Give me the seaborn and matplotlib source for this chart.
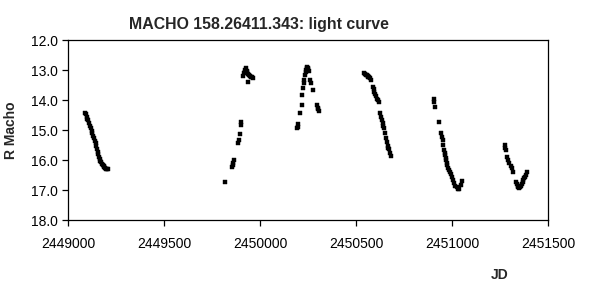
import numpy as np
import pandas as pd
import matplotlib
matplotlib.use("Agg")
import matplotlib.pyplot as plt
import seaborn as sns

# Julian dates (offset from 2449000) and R magnitudes
jd_s1 = [88, 92, 97, 101, 106, 111, 115, 120, 124, 127, 131, 135, 140, 144, 147, 150, 154, 158, 162, 165, 169, 172, 176, 181, 185, 189, 194, 198, 203, 208]
r_s1 = [14.42, 14.48, 14.56, 14.62, 14.67, 14.78, 14.86, 14.94, 15.02, 15.11, 15.19, 15.28, 15.36, 15.44, 15.53, 15.63, 15.72, 15.81, 15.90, 15.97, 16.04, 16.08, 16.13, 16.17, 16.21, 16.24, 16.27, 16.29, 16.30, 16.31]

jd_s2 = [818, 852, 857, 861, 865, 884, 889, 894, 899, 901, 913, 917, 920, 922, 927, 931, 934, 936, 939, 943, 948, 953, 958, 962]
r_s2 = [16.74, 16.24, 16.16, 16.11, 16.01, 15.44, 15.34, 15.14, 14.83, 14.74, 13.19, 13.11, 13.05, 13.00, 12.92, 13.03, 13.08, 13.41, 13.14, 13.16, 13.19, 13.22, 13.24, 13.26]

jd_s3 = [1193, 1196, 1200, 1208, 1217, 1220, 1225, 1228, 1231, 1234, 1237, 1240, 1243, 1246, 1248, 1251, 1255, 1260, 1266, 1278, 1295, 1300, 1304, 1309]
r_s3 = [14.93, 14.80, 14.89, 14.44, 14.17, 13.83, 13.61, 13.44, 13.33, 13.17, 13.08, 13.00, 12.89, 12.92, 12.94, 12.98, 13.03, 13.33, 13.44, 13.67, 14.17, 14.26, 14.31, 14.37]

jd_s4 = [1543, 1547, 1552, 1556, 1561, 1565, 1568, 1573, 1578, 1590, 1593, 1595, 1599, 1602, 1608, 1613, 1620, 1627, 1630, 1635, 1639, 1643, 1646, 1651, 1656, 1660, 1665, 1669, 1672, 1677, 1682]
r_s4 = [13.11, 13.12, 13.15, 13.17, 13.20, 13.22, 13.24, 13.28, 13.33, 13.56, 13.64, 13.72, 13.80, 13.87, 13.95, 14.00, 14.06, 14.42, 14.56, 14.66, 14.76, 14.85, 14.94, 15.11, 15.28, 15.39, 15.53, 15.60, 15.64, 15.78, 15.87]

jd_s5 = [1906, 1906, 1911, 1932, 1941, 1947, 1952, 1955, 1958, 1961, 1964, 1967, 1969, 1972, 1976, 1981, 1986, 1990, 1995, 2002, 2007, 2012, 2018, 2024, 2030, 2036, 2045, 2050]
r_s5 = [13.98, 14.06, 14.24, 14.74, 15.09, 15.22, 15.33, 15.50, 15.67, 15.75, 15.83, 15.92, 16.00, 16.09, 16.17, 16.25, 16.33, 16.40, 16.47, 16.58, 16.68, 16.78, 16.85, 16.91, 16.95, 16.98, 16.83, 16.69]

jd_s6 = [2276, 2276, 2280, 2285, 2293, 2299, 2305, 2311, 2319, 2333, 2338, 2342, 2346, 2350, 2355, 2359, 2364, 2368, 2372, 2375, 2380, 2385, 2389]
r_s6 = [15.50, 15.59, 15.67, 15.89, 16.00, 16.11, 16.20, 16.28, 16.39, 16.72, 16.80, 16.86, 16.90, 16.92, 16.90, 16.86, 16.80, 16.74, 16.67, 16.61, 16.55, 16.50, 16.39]

JD0 = 2449000
jd = np.array(jd_s1 + jd_s2 + jd_s3 + jd_s4 + jd_s5 + jd_s6) + JD0
rmag = np.array(r_s1 + r_s2 + r_s3 + r_s4 + r_s5 + r_s6)
df = pd.DataFrame({"JD": jd, "R Macho": rmag})

x_ticks = [2449000, 2449500, 2450000, 2450500, 2451000, 2451500]
y_ticks = [12.0, 13.0, 14.0, 15.0, 16.0, 17.0, 18.0]
title = "MACHO 158.26411.343: light curve"

sns.set_style("ticks")
plt.rcParams["font.family"] = ["Liberation Sans", "DejaVu Sans"]

fig = plt.figure(figsize=(5.89, 2.93), dpi=100)
ax = fig.add_axes([68 / 589, 73 / 293, 480 / 589, 180 / 293])

sns.scatterplot(data=df, x="JD", y="R Macho", ax=ax, marker="s", s=7,
                color="black", edgecolor="black", linewidth=0.3, legend=False)

ax.set_xlim(2449000, 2451500)
ax.set_ylim(18.0, 12.0)
ax.set_xticks(x_ticks)
ax.set_xticklabels([str(t) for t in x_ticks])
ax.set_yticks(y_ticks)
ax.set_yticklabels([f"{t:.1f}" for t in y_ticks])
ax.tick_params(axis="both", direction="out", length=4, width=0.9, colors="black",
               labelsize=10, pad=3)
ax.tick_params(axis="x", pad=8)
for sp in ax.spines.values():
    sp.set_visible(True)
    sp.set_color("black")
    sp.set_linewidth(0.9)

ax.set_xlabel("JD", fontweight="bold", fontsize=10)
ax.xaxis.set_label_coords(0.9, -0.265)
ax.set_ylabel("R Macho", fontweight="bold", fontsize=10)
ax.yaxis.set_label_coords(-0.104, 0.5)

fig.text(258.5 / 589, 1 - 25 / 293, title, ha="center", va="center",
         fontsize=11.4, fontweight="bold")

fig.savefig("out.png", dpi=100)
